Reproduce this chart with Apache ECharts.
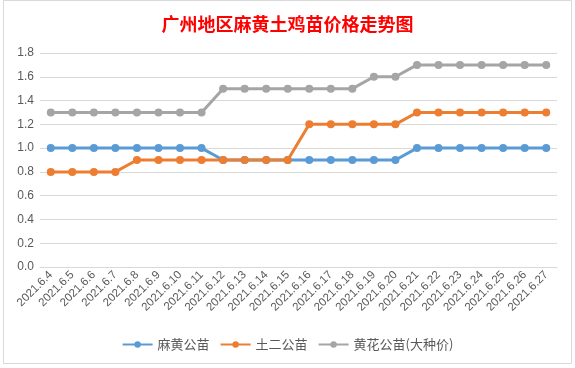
<!DOCTYPE html>
<html><head><meta charset="utf-8">
<script src="https://cdn.jsdelivr.net/npm/echarts@6/dist/echarts.min.js"></script>
<style>html,body{margin:0;padding:0;background:#fff}#c{width:575px;height:368px}</style>
</head><body><div id="c"></div>
<script>
const categories = ['2021.6.4','2021.6.5','2021.6.6','2021.6.7','2021.6.8','2021.6.9','2021.6.10','2021.6.11','2021.6.12','2021.6.13','2021.6.14','2021.6.15','2021.6.16','2021.6.17','2021.6.18','2021.6.19','2021.6.20','2021.6.21','2021.6.22','2021.6.23','2021.6.24','2021.6.25','2021.6.26','2021.6.27'];
const mahuang = [1.0,1.0,1.0,1.0,1.0,1.0,1.0,1.0,0.9,0.9,0.9,0.9,0.9,0.9,0.9,0.9,0.9,1.0,1.0,1.0,1.0,1.0,1.0,1.0];
const tuer = [0.8,0.8,0.8,0.8,0.9,0.9,0.9,0.9,0.9,0.9,0.9,0.9,1.2,1.2,1.2,1.2,1.2,1.3,1.3,1.3,1.3,1.3,1.3,1.3];
const huanghua = [1.3,1.3,1.3,1.3,1.3,1.3,1.3,1.3,1.5,1.5,1.5,1.5,1.5,1.5,1.5,1.6,1.6,1.7,1.7,1.7,1.7,1.7,1.7,1.7];
const seriesNames = ['麻黄公苗','土二公苗','黄花公苗(大种价)'];
const colors = ['#5b9bd5','#ed7d31','#a5a5a5'];
const chart = echarts.init(document.getElementById('c'));
const mk = (name, data, color) => ({
  name, type:'line', data, color,
  symbol:'circle', symbolSize:8,
  lineStyle:{width:3, color},
  itemStyle:{color},
  animation:false
});
chart.setOption({
  animation:false,
  backgroundColor:'#fff',
  graphic:[{type:'rect', shape:{x:3.5,y:0.5,width:568,height:363}, style:{fill:'none', stroke:'#d9d9d9', lineWidth:1}, silent:true}],
  title:{text:'广州地区麻黄土鸡苗价格走势图', left:'center', top:10,
    textStyle:{color:'#ff0000', fontSize:18, fontWeight:'bold', fontFamily:'Noto Sans CJK SC'}},
  legend:{bottom:12, left:'center', itemWidth:30, itemHeight:8, itemGap:10,
    textStyle:{color:'#595959', fontSize:13, fontFamily:'Noto Sans CJK SC'},
    data:seriesNames},
  grid:{left:40, right:18, top:53, bottom:101, containLabel:false},
  xAxis:{type:'category', data:categories, boundaryGap:true,
    axisLine:{show:true, lineStyle:{color:'#d9d9d9'}}, axisTick:{show:false},
    axisLabel:{rotate:45, interval:0, color:'#595959', fontSize:11.5, fontFamily:'Liberation Sans', margin:6}},
  yAxis:{type:'value', min:0, max:1.8, interval:0.2,
    axisLine:{show:false}, axisTick:{show:false},
    splitLine:{lineStyle:{color:'#d9d9d9'}},
    axisLabel:{color:'#595959', fontSize:12, fontFamily:'Liberation Sans', formatter:v=>v.toFixed(1), margin:6}},
  series:[mk(seriesNames[0], mahuang, colors[0]), mk(seriesNames[1], tuer, colors[1]), mk(seriesNames[2], huanghua, colors[2])]
});
</script></body></html>
